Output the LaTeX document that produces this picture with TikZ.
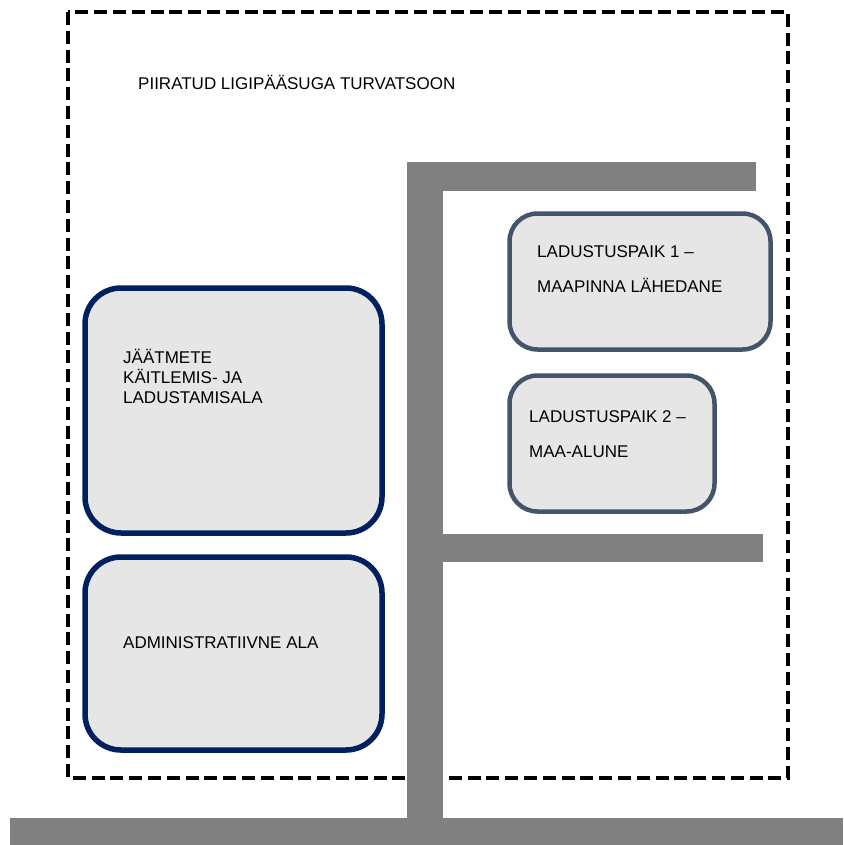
\documentclass[tikz,border=0pt]{standalone}
\usepackage{fontspec}
\setmainfont{Liberation Sans}
\definecolor{road}{HTML}{808080}
\definecolor{navy}{HTML}{002060}
\definecolor{slate}{HTML}{44546A}
\definecolor{boxfill}{HTML}{E6E6E6}
\begin{document}
\begin{tikzpicture}[x=1pt,y=-1pt,
  zone/.style={draw=black,line width=4.5pt,dash pattern=on 13pt off 5.8pt},
  roadpart/.style={fill=road,draw=none},
  bigbox/.style={draw=navy,fill=boxfill,line width=5.5pt,rounded corners=36pt},
  smallbox/.style={draw=slate,fill=boxfill,line width=4.5pt,rounded corners=28pt},
  lbl/.style={anchor=base west,inner sep=0pt,font=\fontsize{17}{20}\selectfont}]
\useasboundingbox (0,0) rectangle (843,845);
% restricted zone
\draw[zone] (68,12) rectangle (788,778);
\node[lbl] (zonelbl) at (138,90) {PIIRATUD LIGIPÄÄSUGA TURVATSOON};
% roads
\fill[roadpart] (407,162) rectangle (443,819);
\fill[roadpart] (407,162) rectangle (756,191);
\fill[roadpart] (407,534) rectangle (763,562);
\fill[roadpart] (10,818) rectangle (843,845);
% left boxes
\draw[bigbox] (85,288) rectangle (382,533);
\node[lbl] (waste1) at (123,363) {JÄÄTMETE};
\node[lbl] (waste2) at (123,383) {KÄITLEMIS- JA};
\node[lbl] (waste3) at (123,403) {LADUSTAMISALA};
\draw[bigbox] (85,557) rectangle (382,750);
\node[lbl] (admin) at (123,648) {ADMINISTRATIIVNE ALA};
% right boxes
\draw[smallbox] (509.5,213.5) rectangle (770.5,349.5);
\node[lbl] (site1a) at (537,257) {LADUSTUSPAIK 1 –};
\node[lbl] (site1b) at (537,292) {MAAPINNA LÄHEDANE};
\draw[smallbox] (509.5,375.5) rectangle (714.5,511.5);
\node[lbl] (site2a) at (529,422) {LADUSTUSPAIK 2 –};
\node[lbl] (site2b) at (529,457) {MAA-ALUNE};
\end{tikzpicture}
\end{document}
